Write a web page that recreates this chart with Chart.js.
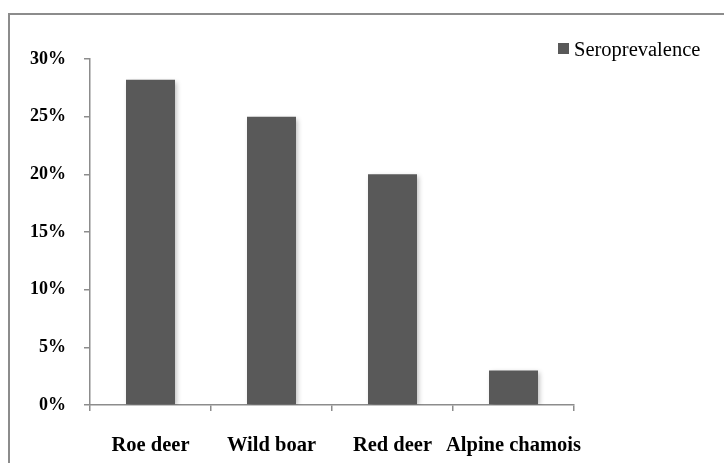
<!DOCTYPE html>
<html>
<head>
<meta charset="utf-8">
<script src="https://cdn.jsdelivr.net/npm/chart.js@4"></script>
<style>
  html, body { margin: 0; padding: 0; background: #fff; }
  #wrap { position: relative; width: 724px; height: 463px; overflow: hidden; }
  #frame { position: absolute; left: 8px; top: 13px; width: 800px; height: 600px;
           border-left: 2px solid #8c8c8c; border-top: 2px solid #8c8c8c; }
  canvas { position: absolute; left: 0; top: 0; }
</style>
</head>
<body>
<div id="wrap">
  <div id="frame"></div>
  <canvas id="myChart" width="724" height="463"></canvas>
</div>
<script>
// data
const categories = ['Roe deer', 'Wild boar', 'Red deer', 'Alpine chamois'];
const seroprevalence = [28.2, 25, 20, 3];
const seriesName = 'Seroprevalence';
const yTicks = [0, 5, 10, 15, 20, 25, 30];

const barColor = '#595959';
const axisColor = '#8c8c8c';
const serif = '"Liberation Serif", "Times New Roman", serif';

// soft shadow behind the bars, like the office chart
const barShadow = {
  id: 'barShadow',
  beforeDatasetsDraw(chart) {
    const ctx = chart.ctx;
    ctx.save();
    ctx.shadowColor = 'rgba(0,0,0,0.28)';
    ctx.shadowBlur = 5;
    ctx.shadowOffsetX = 2;
    ctx.shadowOffsetY = 2;
  },
  afterDatasetsDraw(chart) {
    chart.ctx.restore();
  }
};

// legend in the top right corner
const cornerLegend = {
  id: 'cornerLegend',
  afterDraw(chart) {
    const ctx = chart.ctx;
    const ds = chart.data.datasets[0];
    ctx.save();
    ctx.fillStyle = ds.backgroundColor;
    ctx.fillRect(558, 43, 11, 11);
    ctx.fillStyle = '#000';
    ctx.font = '20.5px ' + serif;
    ctx.textBaseline = 'alphabetic';
    ctx.textAlign = 'left';
    ctx.fillText(ds.label, 574, 56);
    ctx.restore();
  }
};

var ctx = document.getElementById('myChart').getContext('2d');

var myChart = new Chart(ctx, {
  type: 'bar',
  data: {
    labels: categories,
    datasets: [{
      label: seriesName,
      data: seroprevalence,
      backgroundColor: barColor,
      borderWidth: 0,
      barPercentage: 0.405,
      categoryPercentage: 1
    }]
  },
  options: {
    responsive: false,
    animation: false,
    layout: {
      padding: { left: 0, top: 59, right: 150, bottom: 0 }
    },
    plugins: {
      legend: { display: false },
      tooltip: { enabled: false }
    },
    scales: {
      x: {
        grid: {
          offset: true,
          drawOnChartArea: false,
          drawTicks: true,
          tickLength: 6,
          color: axisColor,
          lineWidth: 1.5
        },
        border: { color: axisColor, width: 1.5 },
        ticks: {
          autoSkip: false,
          maxRotation: 0,
          minRotation: 0,
          padding: 22,
          color: '#000',
          font: { family: serif, size: 20.5, weight: 'bold' }
        },
        afterFit(scale) { scale.height = 58; }
      },
      y: {
        min: 0,
        max: 30,
        afterBuildTicks(scale) {
          scale.ticks = yTicks.map(v => ({ value: v }));
        },
        grid: {
          drawOnChartArea: false,
          drawTicks: true,
          tickLength: 6,
          color: axisColor,
          lineWidth: 1.5
        },
        border: { color: axisColor, width: 1.5 },
        ticks: {
          padding: 18,
          color: '#000',
          font: { family: serif, size: 18, weight: 'bold' },
          callback: function (v) { return v + '%'; }
        },
        afterFit(scale) { scale.width = 90; }
      }
    }
  },
  plugins: [barShadow, cornerLegend]
});
</script>
</body>
</html>
